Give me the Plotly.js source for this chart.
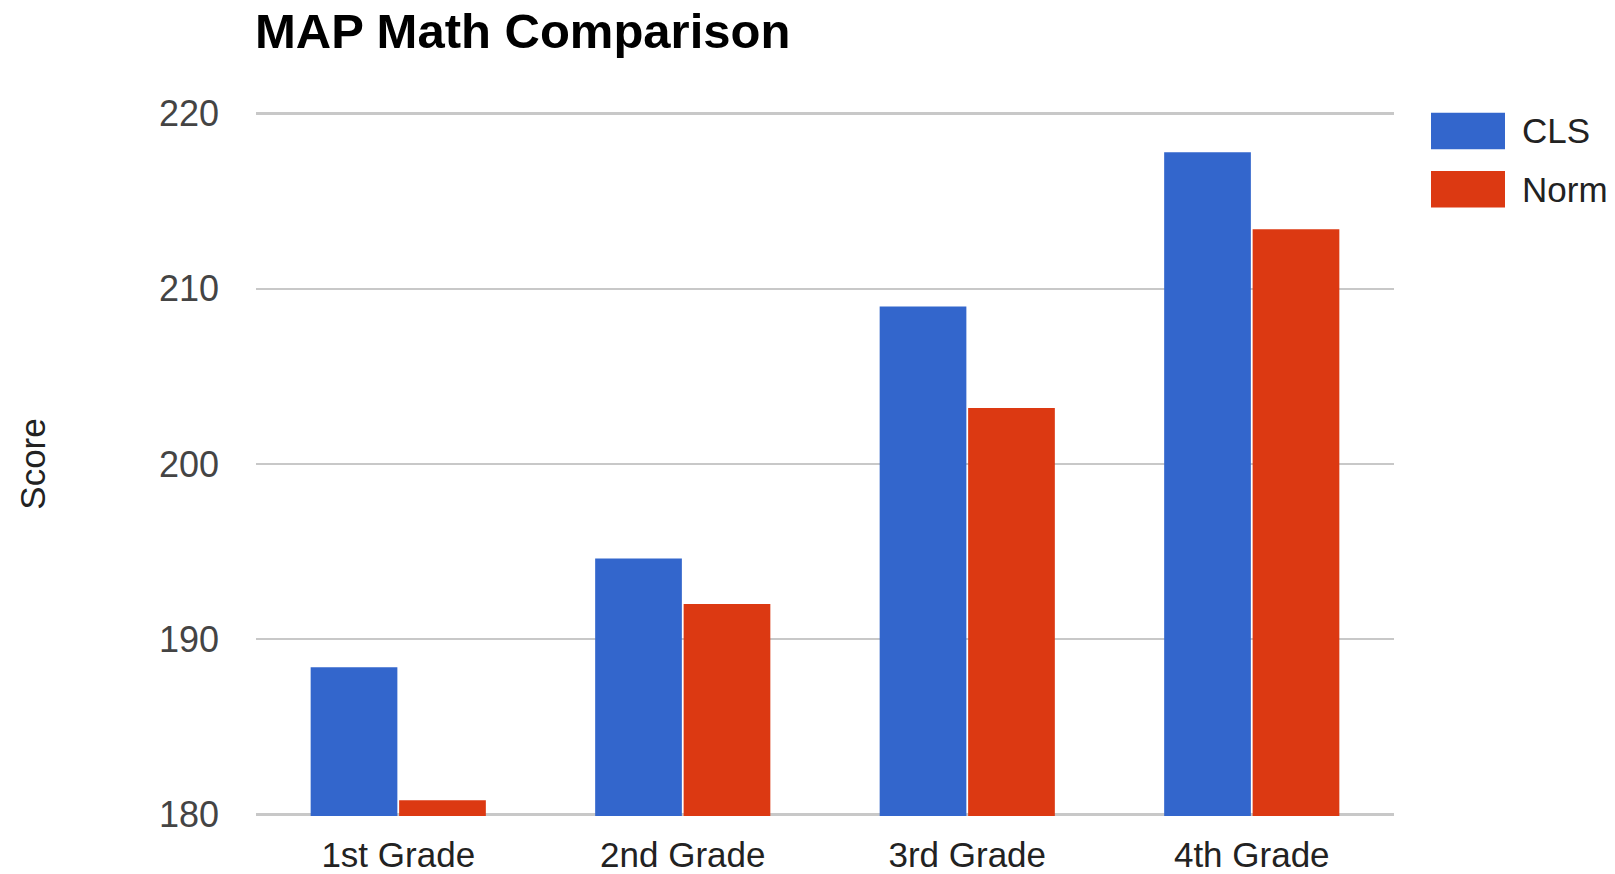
<!DOCTYPE html>
<html>
<head>
<meta charset="utf-8">
<script src="https://cdn.plot.ly/plotly-3.0.1.min.js"></script>
<style>
  html, body { margin: 0; padding: 0; background: #fff; }
  #chart { width: 1615px; height: 874px; }
</style>
</head>
<body>
<div id="chart"></div>
<script>
// ---- data ----
const categories = ['1st Grade', '2nd Grade', '3rd Grade', '4th Grade'];
const seriesNames = ['CLS', 'Norm'];
const clsScores = [188.4, 194.6, 209.0, 217.8];
const normScores = [180.8, 192.0, 203.2, 213.4];
const yTickValues = [180, 190, 200, 210, 220];
const chartTitle = 'MAP Math Comparison';
const yAxisTitle = 'Score';

// ---- style ----
const seriesColors = ['#3366CC', '#DC3912'];
const FONT = 'Arial, "Liberation Sans", sans-serif';
const W = 1615, H = 874;
const M = { l: 256, r: 221, t: 112, b: 58 };
const plotW = W - M.l - M.r, plotH = H - M.t - M.b;
const yPad = 0.1; // small padding so the 180 / 220 gridlines are drawn

const seriesValues = [clsScores, normScores];
const traces = seriesNames.map((name, i) => ({
  type: 'bar',
  name: name,
  x: categories,
  y: seriesValues[i],
  marker: { color: seriesColors[i], line: { width: 0 } },
  showlegend: false,
  hoverinfo: 'x+y+name'
}));

// custom legend (large swatches like the original)
function px2x(px) { return (px - M.l) / plotW; }
function py2y(py) { return (H - M.b - py) / plotH; }
const legendTop = [112.7, 171];
const swH = 36.5;
const shapes = [], annotations = [];
seriesNames.forEach((name, i) => {
  shapes.push({
    type: 'rect', xref: 'paper', yref: 'paper',
    x0: px2x(1431), x1: px2x(1505),
    y0: py2y(legendTop[i] + swH), y1: py2y(legendTop[i]),
    fillcolor: seriesColors[i], line: { width: 0 }
  });
  annotations.push({
    xref: 'paper', yref: 'paper',
    x: px2x(1520), y: py2y(legendTop[i] + swH / 2),
    xanchor: 'left', yanchor: 'middle',
    text: name, showarrow: false,
    font: { family: FONT, size: 35, color: '#222' }
  });
});

const layout = {
  width: W, height: H,
  margin: M,
  paper_bgcolor: '#fff', plot_bgcolor: '#fff',
  font: { family: FONT, color: '#222' },
  title: {
    text: '<b>' + chartTitle + '</b>',
    xref: 'container', yref: 'container',
    x: 255 / W, xanchor: 'left',
    y: 1 - 31 / H, yanchor: 'middle',
    font: { family: FONT, size: 49, color: '#000' }
  },
  barmode: 'group',
  bargap: 0.378,
  bargroupgap: 0.02,
  xaxis: {
    type: 'category',
    tickfont: { family: FONT, size: 35, color: '#222' },
    showgrid: false, zeroline: false, showline: false,
    ticks: '', ticklabelstandoff: 15
  },
  yaxis: {
    range: [yTickValues[0] - yPad, yTickValues[yTickValues.length - 1] + yPad],
    tickvals: yTickValues,
    ticktext: yTickValues.map(String),
    tickfont: { family: FONT, size: 36, color: '#444' },
    showgrid: true, gridcolor: '#c8c8c8', gridwidth: 2.6,
    zeroline: false, showline: false, ticks: '',
    ticklabelstandoff: 36,
    title: {
      text: yAxisTitle,
      font: { family: FONT, size: 35, color: '#222' },
      standoff: 102
    },
    automargin: false
  },
  shapes: shapes,
  annotations: annotations,
  showlegend: false
};

Plotly.newPlot('chart', traces, layout, { displayModeBar: false, staticPlot: true });
</script>
</body>
</html>
